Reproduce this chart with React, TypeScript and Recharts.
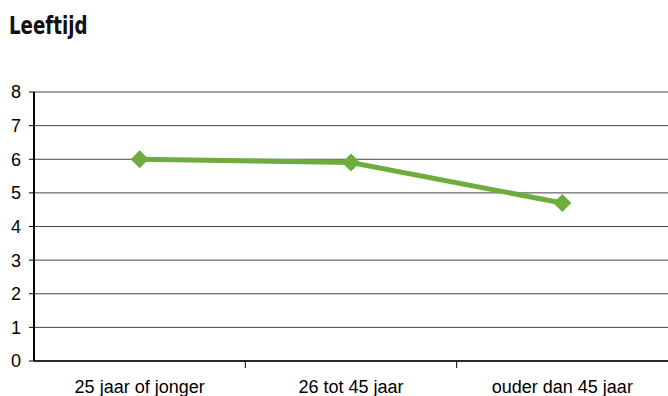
import { LineChart, Line, XAxis, YAxis, CartesianGrid } from 'recharts';

const categories = ['25 jaar of jonger', '26 tot 45 jaar', 'ouder dan 45 jaar'];
const scores = [6.0, 5.9, 4.7];
const yTicks = [0, 1, 2, 3, 4, 5, 6, 7, 8];

const data = categories.map((name, i) => ({ name, score: scores[i] }));

const GREEN = '#6fac3e';
const PLOT_LEFT = 34;
const PLOT_RIGHT = 668;
const BAND = (PLOT_RIGHT - PLOT_LEFT) / categories.length;
const FONT = "'Liberation Sans', Arial, sans-serif";

function Diamond(props: any) {
  const { cx, cy } = props;
  if (cx == null || cy == null) return null;
  const r = 9;
  return (
    <polygon
      points={`${cx},${cy - r} ${cx + r},${cy} ${cx},${cy + r} ${cx - r},${cy}`}
      fill={GREEN}
    />
  );
}

function CategoryTick(props: any) {
  const { x, y, payload, index } = props;
  const edge = x + BAND / 2;
  return (
    <g>
      {index < categories.length - 1 && (
        <line x1={edge} x2={edge} y1={y - 8} y2={y - 1} stroke="#000" />
      )}
      <text x={x} y={y + 24} textAnchor="middle" fontSize={18} fontFamily={FONT} fill="#000">
        {payload.value}
      </text>
    </g>
  );
}

export default function App() {
  return (
    <div style={{ position: 'absolute', left: 0, top: 0, width: 668, height: 396, background: '#fff' }}>
      <div
        style={{
          position: 'absolute',
          left: 9,
          top: 12,
          fontFamily: "'DejaVu Sans', sans-serif",
          fontWeight: 'bold',
          fontSize: 24,
          color: '#111',
          transform: 'scaleX(0.76)',
          transformOrigin: 'left top',
          whiteSpace: 'nowrap',
        }}
      >
        Leeftijd
      </div>
      <LineChart
        width={668}
        height={396}
        data={data}
        margin={{ top: 92, right: 0, bottom: 0, left: 0 }}
      >
        <CartesianGrid vertical={false} stroke="#444" strokeWidth={1} />
        <XAxis
          dataKey="name"
          scale="band"
          height={35}
          axisLine={{ stroke: '#000', strokeWidth: 1.5 }}
          tickLine={false}
          tick={<CategoryTick />}
          interval={0}
        />
        <YAxis
          width={34}
          domain={[0, 8]}
          ticks={yTicks}
          interval={0}
          axisLine={{ stroke: '#000', strokeWidth: 2 }}
          tickLine={{ stroke: '#000' }}
          tickSize={5}
          tickMargin={8}
          tick={{ fill: '#000', fontSize: 18, fontFamily: FONT }}
        />
        <Line
          dataKey="score"
          stroke={GREEN}
          strokeWidth={5}
          dot={<Diamond />}
          activeDot={false}
          isAnimationActive={false}
        />
      </LineChart>
    </div>
  );
}
